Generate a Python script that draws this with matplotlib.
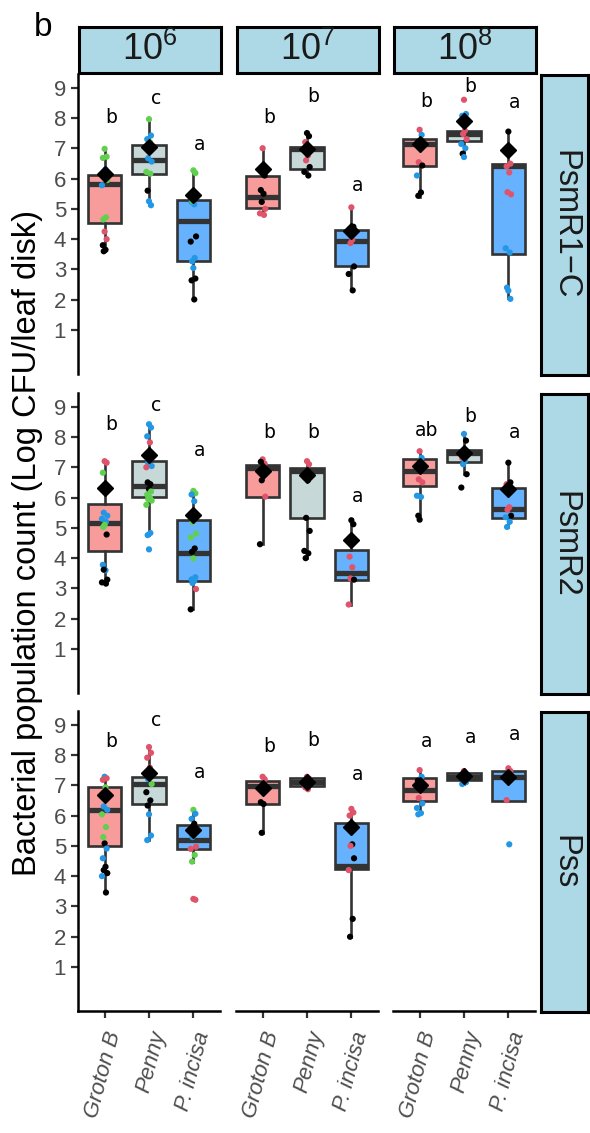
import matplotlib
matplotlib.use("Agg")
import matplotlib.pyplot as plt

plt.rcParams['font.family'] = ['Liberation Sans', 'DejaVu Sans']
plt.rcParams['mathtext.fontset'] = 'custom'
plt.rcParams['mathtext.rm'] = 'Liberation Sans'

# facets and groups
doses = [r'$\mathregular{10^6}$', r'$\mathregular{10^7}$', r'$\mathregular{10^8}$']
strains = ['PsmR1\u2212C', 'PsmR2', 'Pss']
cultivars = ['Groton B', 'Penny', 'P. incisa']
box_fill = ['#F89B9B', '#C6D9D8', '#66B2FF']
dot_col = {'k': 'black', 'r': '#DF536B', 'g': '#61D04F', 'b': '#2297E6'}

# box stats per panel: [whisker low, q1, median, q3, whisker high]
psmr1c_box = [
    [[3.6, 4.52, 5.83, 6.13, 6.98], [5.12, 6.16, 6.6, 7.11, 7.96], [2.01, 3.27, 4.6, 5.29, 6.27]],
    [[4.8, 5.02, 5.4, 6.09, 7.0], [6.1, 6.33, 6.98, 7.03, 7.5], [2.31, 3.1, 3.95, 4.31, 5.05]],
    [[5.4, 6.43, 7.14, 7.31, 7.65], [6.71, 7.25, 7.47, 7.58, 8.13], [2.07, 3.51, 6.43, 6.49, 7.55]],
]
psmr2_box = [
    [[3.18, 4.24, 5.16, 5.79, 7.2], [4.76, 6.03, 6.39, 7.2, 8.42], [2.31, 3.23, 4.18, 5.27, 6.25]],
    [[4.46, 6.01, 6.99, 7.07, 7.26], [4.0, 5.33, 6.88, 6.97, 7.2], [2.47, 3.27, 3.5, 4.27, 5.25]],
    [[5.27, 6.39, 6.88, 7.26, 7.53], [6.77, 7.18, 7.48, 7.56, 8.08], [5.03, 5.33, 5.63, 6.31, 7.15]],
]
pss_box = [
    [[3.44, 4.99, 6.19, 6.95, 7.28], [5.19, 6.38, 7.04, 7.26, 8.26], [4.48, 4.88, 5.19, 5.68, 6.19]],
    [[5.43, 6.38, 6.98, 7.13, 7.28], [6.93, 6.98, 7.12, 7.23, 7.28], [2.0, 4.23, 4.34, 5.75, 6.22]],
    [[6.04, 6.49, 6.84, 7.23, 7.5], [7.04, 7.17, 7.28, 7.42, 7.5], [6.49, 6.49, 7.28, 7.47, 7.58]],
]

# group means
psmr1c_mean = [[6.16, 7.03, 5.45], [6.33, 6.96, 4.27], [7.14, 7.89, 6.95]]
psmr2_mean = [[6.33, 7.42, 5.44], [6.88, 6.75, 4.59], [7.04, 7.48, 6.28]]
pss_mean = [[6.69, 7.39, 5.51], [6.91, 7.12, 5.62], [7.02, 7.31, 7.28]]

# significance letters and their heights
psmr1c_letters = [['b', 'c', 'a'], ['b', 'b', 'a'], ['b', 'b', 'a']]
psmr1c_letter_y = [[8.0, 8.64, 7.14], [8.02, 8.7, 5.78], [8.53, 9.03, 8.51]]
psmr2_letters = [['b', 'c', 'a'], ['b', 'b', 'a'], ['ab', 'b', 'a']]
psmr2_letter_y = [[8.4, 9.03, 7.55], [8.13, 8.13, 6.03], [8.2, 8.67, 8.16]]
pss_letters = [['b', 'c', 'a'], ['b', 'b', 'a'], ['a', 'a', 'a']]
pss_letter_y = [[8.45, 9.13, 7.42], [8.29, 8.48, 7.36], [8.43, 8.59, 8.67]]

# individual observations: colour code + value
psmr1c_pts = [
    ["g6.98 g6.72 g6.68 b6.3 b6.22 g5.95 b5.78 g4.72 g4.65 r4.25 r4.0 k3.8 k3.65 k3.6",
     "g7.96 b7.42 b7.3 g7.2 b6.67 b6.56 g6.22 g6.16 k5.6 b5.25 b5.12",
     "g6.27 g6.18 b5.23 b5.15 g5.25 k4.09 k3.92 b3.38 b3.27 b3.05 k2.7 k2.64 k2.01"],
    ["r7.0 k6.1 k5.62 k5.5 k5.23 r5.0 r4.85 r4.8",
     "k7.5 k7.4 r7.2 r6.76 r6.6 k6.38 k6.22 k6.1",
     "r5.05 k4.41 k4.25 r3.98 r3.87 k3.1 k2.85 k2.31"],
    ["r7.61 b7.44 k7.2 r7.04 r6.54 k6.43 b6.1 k5.54 k5.43",
     "r8.6 b8.13 b8.07 r7.58 r7.47 r7.3 b7.14 b7.0 k6.82 b6.71",
     "k7.55 r6.49 r6.4 r6.2 r5.55 r5.48 b3.7 b3.56 b2.4 b2.3 b2.03"],
]
psmr2_pts = [
    ["r7.2 r7.15 g6.82 g6.17 b5.5 b5.4 b5.3 b5.2 g5.03 g5.1 k4.78 b3.78 b3.6 k3.62 k3.29 k3.2 k3.16",
     "b8.42 b8.31 b8.02 r7.82 b7.15 b7.04 r7.0 k6.44 k6.5 k6.28 g6.2 g6.1 g6.0 g5.95 g5.9 g5.76 b4.83 b4.76 b4.29",
     "g6.22 g6.14 b6.1 b5.88 g5.19 g4.81 g4.68 k4.32 k4.21 g3.99 b3.37 b3.3 b3.25 b3.18 r2.98 k2.31"],
    ["r7.26 r7.12 k7.18 k6.9 k6.57 r6.03 k4.46",
     "r7.2 r7.1 k6.66 k6.57 k5.33 k4.9 k4.24 k4.16 k4.0",
     "k5.25 k5.12 r4.05 r3.7 r3.33 k3.29 r2.47"],
    ["r7.53 b7.31 k7.05 k6.9 r6.6 r6.5 b6.06 b6.02 k5.4 k5.27",
     "b8.1 k7.88 r7.31 b7.2 b7.1 k6.77 k6.33",
     "k7.15 k6.5 r6.44 r5.68 r5.6 k5.4 b5.35 b5.2 b5.03"],
]
pss_pts = [
    ["b7.28 r7.23 r7.18 g6.93 b6.3 b6.19 g6.04 g5.62 g5.29 k5.08 b4.91 b4.59 k4.31 k4.2 k4.1 b4.0 k3.46",
     "r8.26 r8.07 r7.91 r7.58 b7.2 g7.04 k6.77 k6.5 k6.33 b6.04 b5.34 b5.19",
     "g6.19 b6.06 b5.89 k5.73 b5.29 r4.97 r4.9 g4.7 g4.48 r3.25 r3.22"],
    ["r7.28 r7.2 k6.44 k6.38 k5.43",
     "r7.28 r7.22 r6.93 r6.87",
     "r6.22 r6.1 r6.0 k5.05 r5.0 k4.59 r4.2 k2.59 k2.0"],
    ["r7.5 b7.28 k7.15 k6.95 r6.58 b6.4 b6.25 b6.08 b6.04",
     "r7.47 b7.1 b7.04",
     "r7.56 r7.47 r6.51 b5.05"],
]

all_box = [psmr1c_box, psmr2_box, pss_box]
all_mean = [psmr1c_mean, psmr2_mean, pss_mean]
all_letters = [psmr1c_letters, psmr2_letters, pss_letters]
all_letter_y = [psmr1c_letter_y, psmr2_letter_y, pss_letter_y]
all_pts = [psmr1c_pts, psmr2_pts, pss_pts]

W, H = 590, 1133
fig = plt.figure(figsize=(W / 100, H / 100), dpi=100)


def rect(l, t, w, h):
    return [l / W, 1 - (t + h) / H, w / W, h / H]


col_left = [78, 236, 393]
row_top = [74, 393, 711]
pw, ph = 142, 300
jit = [0.0, 0.045, -0.04, 0.02, -0.02, 0.06, -0.06, 0.03, -0.03]
dark = '#333333'
grey = '#4D4D4D'


def strip(r, label, rot):
    sa = fig.add_axes(rect(*r))
    sa.set_facecolor('#ADD8E6')
    sa.set_xticks([])
    sa.set_yticks([])
    for s in sa.spines.values():
        s.set_linewidth(2.2)
        s.set_color('black')
    fs = 26 if rot == 0 else 23.5
    sa.text(0.5, 0.5, label, rotation=rot, ha='center', va='center',
            fontsize=fs, color='#1A1A1A', transform=sa.transAxes)


for i in range(3):
    for j in range(3):
        ax = fig.add_axes(rect(col_left[j], row_top[i], pw, ph))

        stats = []
        for b in all_box[i][j]:
            stats.append(dict(whislo=b[0], q1=b[1], med=b[2], q3=b[3], whishi=b[4], fliers=[]))
        bp = ax.bxp(stats, positions=[1, 2, 3], widths=0.75, patch_artist=True,
                    showcaps=False, showfliers=False, manage_ticks=False,
                    boxprops=dict(edgecolor=dark, linewidth=1.9),
                    whiskerprops=dict(color=dark, linewidth=1.9),
                    medianprops=dict(color=dark, linewidth=3.8, solid_capstyle='butt'))
        for patch, c in zip(bp['boxes'], box_fill):
            patch.set_facecolor(c)
            patch.set_zorder(2)

        for k in range(3):
            obs = all_pts[i][j][k].split()
            xs = [k + 1 + jit[n % len(jit)] for n in range(len(obs))]
            ys = [float(o[1:]) for o in obs]
            cs = [dot_col[o[0]] for o in obs]
            ax.scatter(xs, ys, s=20, c=cs, zorder=3, linewidths=0)
            ax.plot(k + 1, all_mean[i][j][k], marker='D', color='black',
                    markersize=8.5, zorder=4)
            ax.text(k + 1.15, all_letter_y[i][j][k], all_letters[i][j][k],
                    ha='center', va='center', fontsize=13.5,
                    family='DejaVu Sans', color='black')

        ax.set_xlim(0.4, 3.6)
        ax.set_ylim(-0.45, 9.45)
        for s in ['top', 'right']:
            ax.spines[s].set_visible(False)
        ax.spines['left'].set_visible(j == 0)
        ax.spines['bottom'].set_visible(i == 2)
        for s in ['left', 'bottom']:
            ax.spines[s].set_linewidth(1.8)
        ax.tick_params(width=1.6, length=5, color=dark, labelcolor=grey, labelsize=16)
        if j == 0:
            ax.set_yticks(range(1, 10))
        else:
            ax.set_yticks([])
        if i == 2:
            ax.set_xticks([1, 2, 3])
            ax.set_xticklabels(cultivars, rotation=75, ha='right', va='top',
                               rotation_mode='anchor', style='italic', fontsize=16)
            ax.tick_params(axis='x', pad=8)
        else:
            ax.set_xticks([])

for j in range(3):
    strip((col_left[j] + 1, 27, pw, 46), doses[j], 0)
for i in range(3):
    strip((541, row_top[i] + 1, 47, ph), strains[i], -90)

fig.text(28 / W, 1 - 543 / H, 'Bacterial population count (Log CFU/leaf disk)',
         rotation=90, ha='center', va='center', fontsize=23.5, color='black')
fig.text(43 / W, 1 - 28 / H, 'b', ha='center', va='center', fontsize=24, color='black')

fig.savefig('out.png', dpi=100)
